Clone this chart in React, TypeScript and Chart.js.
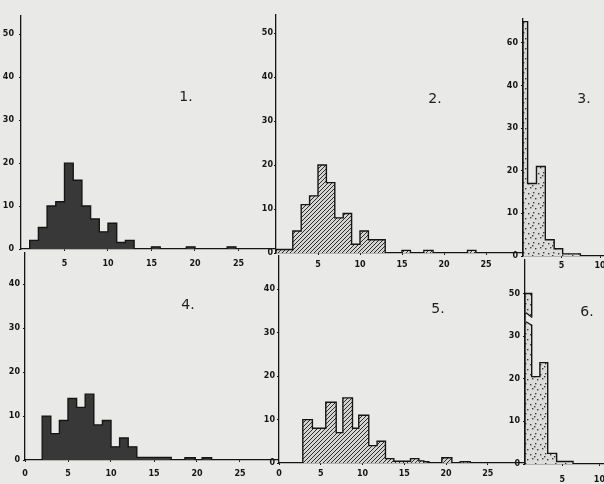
import { useEffect, useRef } from "react";
import { Chart, registerables } from "chart.js";
Chart.register(...registerables);

// ---------------- data ----------------
const P1_EDGES = [1, 2, 3, 4, 5, 6, 7, 8, 9, 10, 11, 12, 13, 15, 16, 19, 20, 23.7, 24.7];
const P1_COUNTS = [2, 5, 10, 11, 20, 16, 10, 7, 4, 6, 1.5, 2, 0, 0.5, 0, 0.5, 0, 0.5];

const P2_EDGES = [0, 2, 3, 4, 5, 6, 7, 8, 9, 10, 11, 12, 13, 15, 16, 17.6, 18.7, 22.8, 23.8];
const P2_COUNTS = [0.8, 5, 11, 13, 20, 16, 8, 9, 2, 5, 3, 3, 0, 0.6, 0, 0.6, 0, 0.6];

const P3_EDGES = [0, 0.6, 1.75, 2.9, 4.05, 5.15, 7.45];
const P3_COUNTS = [65, 17, 21, 3.8, 1.7, 0.5];

const P4_EDGES = [2, 3, 4, 5, 6, 7, 8, 9, 10, 11, 12, 13, 17, 18.6, 19.8, 20.6, 21.7];
const P4_COUNTS = [10, 6, 9, 14, 12, 15, 8, 9, 3, 5, 3, 0.6, 0, 0.5, 0, 0.5];

const P5_EDGES = [2.85, 4, 5.6, 6.85, 7.65, 8.8, 9.55, 10.75, 11.75, 12.75, 13.75, 15.75, 16.75, 17.35, 17.95, 19.5, 20.7, 21.7, 22.9];
const P5_COUNTS = [10, 8, 14, 7, 15, 8, 11, 4, 5, 1, 0.4, 1, 0.5, 0.3, 0, 1.2, 0, 0.3];

const P6_EDGES = [0, 0.9, 2, 3.05, 4.25, 6.45];
const P6_COUNTS = [50, 20.5, 23.8, 2.5, 0.6];

// ticks
const X_TICKS_TOP = [5, 10, 15, 20, 25];
const X_TICKS_BOTTOM = [0, 5, 10, 15, 20, 25];
const X_TICKS_NARROW = [5, 10];
const Y_TICKS_TOP = [0, 10, 20, 30, 40, 50];
const Y_TICKS_BOTTOM = [0, 10, 20, 30, 40];
const Y_LABELS_TOP = ["0", "10", "20", "30", "40", "50"];
const Y_LABELS_BOTTOM = ["0", "10", "20", "30", "40"];
const P3_Y_LABELS = ["0", "10", "20", "30", "40", "60"];
const P6_Y_LABELS = ["0", "10", "20", "30", "50"];
const PANEL_NAMES = ["1.", "2.", "3.", "4.", "5.", "6."];

// broken axes: values above gapStart are shown gapSize lower
const P3_GAP = { gapStart: 40, gapSize: 10 };
const P6_GAP = { gapStart: 30, gapSize: 10 };
const NO_GAP = { gapStart: Infinity, gapSize: 0 };
const P6_BREAK = { highLeft: 35.5, highRight: 34.4, lowLeft: 33.4, lowRight: 32.5 };

// ---------------- styling ----------------
const BG = "#e9e9e7";
const INK = "#151515";
const TICK_FONT = { family: "DejaVu Sans", size: 8, weight: "bold" as const };
const Y_W = 26;
const X_H = 26;
const TOP_PAD = 4;

type Geo = { axisX: number; zeroY: number; top: number; right: number; pxX: number; pxY: number; yPad: number; xPad: number };

function makeHatch(): CanvasPattern | string {
  const c = document.createElement("canvas");
  c.width = 4; c.height = 4;
  const g = c.getContext("2d");
  if (!g) return "#999";
  g.fillStyle = "#d4d4d2"; g.fillRect(0, 0, 4, 4);
  g.strokeStyle = "#2c2c2c"; g.lineWidth = 1;
  g.beginPath();
  g.moveTo(0, 4); g.lineTo(4, 0);
  g.moveTo(-1, 1); g.lineTo(1, -1);
  g.moveTo(3, 5); g.lineTo(5, 3);
  g.stroke();
  return g.createPattern(c, "repeat") || "#999";
}

function makeStipple(): CanvasPattern | string {
  const c = document.createElement("canvas");
  c.width = 10; c.height = 10;
  const g = c.getContext("2d");
  if (!g) return "#ccc";
  g.fillStyle = "#dcdcda"; g.fillRect(0, 0, 10, 10);
  g.fillStyle = "#3a3a3a";
  const dots = [[1, 2], [6, 1], [3, 6], [8, 7], [5, 4]];
  dots.forEach(([x, y]) => g.fillRect(x, y, 1.4, 1.4));
  return g.createPattern(c, "repeat") || "#ccc";
}

type Spec = {
  edges: number[]; counts: number[]; geo: Geo; xTicks: number[]; yTicks: number[]; yLabels: string[];
  fill: "dark" | "hatch" | "dots"; gap: { gapStart: number; gapSize: number }; breakMark?: typeof P6_BREAK;
};

const SPECS: Spec[] = [
  { edges: P1_EDGES, counts: P1_COUNTS, xTicks: X_TICKS_TOP, yTicks: Y_TICKS_TOP, yLabels: Y_LABELS_TOP, fill: "dark", gap: NO_GAP,
    geo: { axisX: 21, zeroY: 249, top: 10, right: 276, pxX: 8.7, pxY: 4.4, yPad: 5, xPad: 8 } },
  { edges: P2_EDGES, counts: P2_COUNTS, xTicks: X_TICKS_TOP, yTicks: Y_TICKS_TOP, yLabels: Y_LABELS_TOP, fill: "hatch", gap: NO_GAP,
    geo: { axisX: 276, zeroY: 253, top: 13, right: 523, pxX: 8.4, pxY: 4.43, yPad: 1, xPad: 5 } },
  { edges: P3_EDGES, counts: P3_COUNTS, xTicks: X_TICKS_NARROW, yTicks: Y_TICKS_TOP, yLabels: P3_Y_LABELS, fill: "dots", gap: P3_GAP,
    geo: { axisX: 523, zeroY: 256, top: 15, right: 614, pxX: 7.7, pxY: 4.33, yPad: 3, xPad: 3 } },
  { edges: P4_EDGES, counts: P4_COUNTS, xTicks: X_TICKS_BOTTOM, yTicks: Y_TICKS_BOTTOM, yLabels: Y_LABELS_BOTTOM, fill: "dark", gap: NO_GAP,
    geo: { axisX: 25, zeroY: 460, top: 249, right: 279, pxX: 8.6, pxY: 4.47, yPad: 3, xPad: 7 } },
  { edges: P5_EDGES, counts: P5_COUNTS, xTicks: X_TICKS_BOTTOM, yTicks: Y_TICKS_BOTTOM, yLabels: Y_LABELS_BOTTOM, fill: "hatch", gap: NO_GAP,
    geo: { axisX: 279, zeroY: 463, top: 253, right: 525, pxX: 8.35, pxY: 4.4, yPad: 2, xPad: 4 } },
  { edges: P6_EDGES, counts: P6_COUNTS, xTicks: X_TICKS_NARROW, yTicks: Y_TICKS_BOTTOM, yLabels: P6_Y_LABELS, fill: "dots", gap: P6_GAP, breakMark: P6_BREAK,
    geo: { axisX: 525, zeroY: 464, top: 256, right: 614, pxX: 7.6, pxY: 4.34, yPad: 3, xPad: 9 } },
];

const NAME_POS = [[186, 96], [435, 98], [584, 98], [188, 304], [438, 308], [587, 311]];

function Panel({ s }: { s: Spec }) {
  const ref = useRef<HTMLCanvasElement>(null);
  const L = Math.round(s.geo.axisX), R = Math.round(s.geo.right);
  const T = Math.round(s.geo.top), Z = Math.round(s.geo.zeroY);
  const chartW = R - L, chartH = Z - T;
  const width = Y_W + chartW;
  const height = TOP_PAD + chartH + X_H;

  useEffect(() => {
    const canvas = ref.current;
    if (!canvas) return;
    const toDisplay = (v: number) => (v > s.gap.gapStart ? Math.max(s.gap.gapStart, v - s.gap.gapSize) : v);
    const pts: { x: number; y: number }[] = [{ x: s.edges[0], y: 0 }];
    s.counts.forEach((c, i) => pts.push({ x: s.edges[i], y: toDisplay(c) }));
    pts.push({ x: s.edges[s.edges.length - 1], y: 0 });
    const bg = s.fill === "dark" ? "#383838" : s.fill === "hatch" ? makeHatch() : makeStipple();

    const breakPlugin = {
      id: "axisBreak",
      afterDatasetsDraw(chart: any) {
        const b = s.breakMark;
        if (!b) return;
        const { ctx } = chart;
        const xs = chart.scales.x, ys = chart.scales.y;
        const x0 = xs.getPixelForValue(s.edges[0]) + 1;
        const x1 = xs.getPixelForValue(s.edges[1]) + 1.5;
        ctx.save();
        ctx.fillStyle = BG;
        ctx.beginPath();
        ctx.moveTo(x0, ys.getPixelForValue(b.highLeft));
        ctx.lineTo(x1, ys.getPixelForValue(b.highRight));
        ctx.lineTo(x1, ys.getPixelForValue(b.lowRight));
        ctx.lineTo(x0, ys.getPixelForValue(b.lowLeft));
        ctx.closePath();
        ctx.fill();
        ctx.strokeStyle = INK;
        ctx.lineWidth = 1.3;
        ctx.beginPath();
        ctx.moveTo(x0, ys.getPixelForValue(b.highLeft));
        ctx.lineTo(x1 - 1, ys.getPixelForValue(b.highRight));
        ctx.moveTo(x0, ys.getPixelForValue(b.lowLeft));
        ctx.lineTo(x1 - 1, ys.getPixelForValue(b.lowRight));
        ctx.stroke();
        ctx.restore();
      },
    };

    const chart = new Chart(canvas, {
      type: "line",
      data: {
        datasets: [
          {
            data: pts,
            stepped: "before",
            fill: "origin",
            backgroundColor: bg as any,
            borderColor: INK,
            borderWidth: 1.4,
            pointRadius: 0,
            tension: 0,
          },
        ],
      },
      options: {
        animation: false,
        responsive: false,
        maintainAspectRatio: false,
        events: [],
        layout: { padding: { top: TOP_PAD, left: 0, right: 0, bottom: 0 } },
        plugins: { legend: { display: false }, tooltip: { enabled: false } },
        scales: {
          x: {
            type: "linear",
            min: 0,
            max: chartW / s.geo.pxX,
            afterFit: (sc: any) => { sc.height = X_H; },
            afterBuildTicks: (sc: any) => { sc.ticks = s.xTicks.map((v) => ({ value: v })); },
            ticks: { autoSkip: false, maxRotation: 0, padding: s.geo.xPad, color: INK, font: TICK_FONT, callback: (v: any) => String(v) },
            grid: { display: true, drawOnChartArea: false, drawTicks: true, tickLength: 2, color: INK },
            border: { display: true, color: INK, width: 1.3 },
          },
          y: {
            type: "linear",
            min: 0,
            max: chartH / s.geo.pxY,
            afterFit: (sc: any) => { sc.width = Y_W; },
            afterBuildTicks: (sc: any) => { sc.ticks = s.yTicks.map((v) => ({ value: v })); },
            ticks: { autoSkip: false, padding: s.geo.yPad, color: INK, font: TICK_FONT, callback: (_v: any, i: number) => s.yLabels[i] },
            grid: { display: true, drawOnChartArea: false, drawTicks: true, tickLength: 2, color: INK },
            border: { display: true, color: INK, width: 1.3 },
          },
        },
      },
      plugins: [breakPlugin],
    } as any);
    return () => chart.destroy();
  }, []);

  return (
    <canvas
      ref={ref}
      width={width}
      height={height}
      style={{ position: "absolute", left: L - Y_W, top: T - TOP_PAD, width, height }}
    />
  );
}

export default function App() {
  return (
    <div style={{ position: "fixed", left: 0, top: 0, width: 604, height: 484, overflow: "hidden", background: BG }}>
      {SPECS.map((s, i) => (
        <Panel key={i} s={s} />
      ))}
      {PANEL_NAMES.map((n, i) => (
        <div
          key={n}
          style={{
            position: "absolute",
            left: NAME_POS[i][0],
            top: NAME_POS[i][1],
            transform: "translate(-50%, -50%)",
            font: "14px 'DejaVu Sans'",
            color: "#1e1e1e",
          }}
        >
          {n}
        </div>
      ))}
    </div>
  );
}
